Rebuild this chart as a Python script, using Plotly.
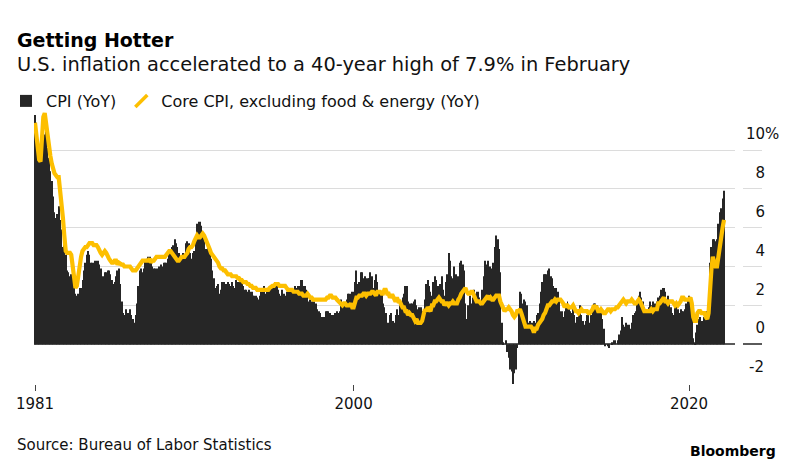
import pandas as pd
import plotly.graph_objects as go

# ---------------- data (monthly, Jan 1981 - Feb 2022) ----------------
start_month = "1981-01-01"

cpi_yoy = [
    11.8, 11.4, 10.5, 10.0, 9.8, 9.6, 10.8, 10.8, 11.0, 10.1, 9.6, 8.9,   # 1981
    8.4, 7.6, 6.8, 6.5, 6.7, 7.1, 6.4, 5.9, 5.0, 5.1, 4.6, 3.8,           # 1982
    3.7, 3.5, 3.6, 3.9, 3.5, 2.6, 2.5, 2.6, 2.9, 2.9, 3.3, 3.8,           # 1983
    4.2, 4.6, 4.8, 4.6, 4.2, 4.2, 4.2, 4.3, 4.3, 4.3, 4.1, 3.9,           # 1984
    3.5, 3.5, 3.7, 3.7, 3.8, 3.8, 3.6, 3.3, 3.1, 3.2, 3.5, 3.8,           # 1985
    3.9, 3.1, 2.2, 1.6, 1.5, 1.8, 1.6, 1.6, 1.8, 1.5, 1.3, 1.1,           # 1986
    1.5, 2.1, 3.0, 3.8, 3.9, 3.7, 3.9, 4.3, 4.4, 4.5, 4.5, 4.4,           # 1987
    4.0, 3.9, 3.9, 3.9, 3.9, 4.0, 4.1, 4.0, 4.2, 4.2, 4.2, 4.4,           # 1988
    4.7, 4.8, 5.0, 5.1, 5.4, 5.2, 5.0, 4.7, 4.3, 4.5, 4.7, 4.6,           # 1989
    5.2, 5.3, 5.2, 4.7, 4.4, 4.7, 4.8, 5.6, 6.2, 6.3, 6.3, 6.1,           # 1990
    5.7, 5.3, 4.9, 4.9, 5.0, 4.7, 4.4, 3.8, 3.4, 2.9, 3.0, 3.1,           # 1991
    2.6, 2.8, 3.2, 3.2, 3.0, 3.1, 3.2, 3.1, 3.0, 3.2, 3.0, 2.9,           # 1992
    3.3, 3.2, 3.1, 3.2, 3.2, 3.0, 2.8, 2.8, 2.7, 2.8, 2.7, 2.7,           # 1993
    2.5, 2.5, 2.5, 2.4, 2.3, 2.5, 2.8, 2.9, 3.0, 2.6, 2.7, 2.7,           # 1994
    2.8, 2.9, 2.9, 3.1, 3.2, 3.0, 2.8, 2.6, 2.5, 2.8, 2.6, 2.5,           # 1995
    2.7, 2.7, 2.8, 2.9, 2.9, 2.8, 3.0, 2.9, 3.0, 3.0, 3.3, 3.3,           # 1996
    3.0, 3.0, 2.8, 2.5, 2.2, 2.3, 2.2, 2.2, 2.2, 2.1, 1.8, 1.7,           # 1997
    1.6, 1.4, 1.4, 1.4, 1.7, 1.7, 1.7, 1.6, 1.5, 1.5, 1.5, 1.6,           # 1998
    1.7, 1.6, 1.7, 2.3, 2.1, 2.0, 2.1, 2.3, 2.6, 2.6, 2.6, 2.7,           # 1999
    2.7, 3.2, 3.8, 3.1, 3.2, 3.7, 3.7, 3.4, 3.5, 3.4, 3.4, 3.4,           # 2000
    3.7, 3.5, 2.9, 3.3, 3.6, 3.2, 2.7, 2.7, 2.6, 2.1, 1.9, 1.6,           # 2001
    1.1, 1.1, 1.5, 1.6, 1.2, 1.1, 1.5, 1.8, 1.5, 2.0, 2.2, 2.4,           # 2002
    2.6, 3.0, 3.0, 2.2, 2.1, 2.1, 2.1, 2.2, 2.3, 2.0, 1.8, 1.9,           # 2003
    1.9, 1.7, 1.7, 2.3, 3.1, 3.3, 3.0, 2.7, 2.5, 3.2, 3.5, 3.3,           # 2004
    3.0, 3.0, 3.1, 3.5, 2.8, 2.5, 3.2, 3.6, 4.7, 4.3, 3.5, 3.4,           # 2005
    4.0, 3.6, 3.4, 3.5, 4.2, 4.3, 4.1, 3.8, 2.1, 1.3, 2.0, 2.5,           # 2006
    2.1, 2.4, 2.8, 2.6, 2.7, 2.7, 2.4, 2.0, 2.8, 3.5, 4.3, 4.1,           # 2007
    4.3, 4.0, 4.0, 3.9, 4.2, 5.0, 5.6, 5.4, 4.9, 3.7, 1.1, 0.1,           # 2008
    0.0, 0.2, -0.4, -0.7, -1.3, -1.4, -2.1, -1.5, -1.3, -0.2, 1.8, 2.7,   # 2009
    2.6, 2.1, 2.3, 2.2, 2.0, 1.1, 1.2, 1.1, 1.1, 1.2, 1.1, 1.5,           # 2010
    1.6, 2.1, 2.7, 3.2, 3.6, 3.6, 3.6, 3.8, 3.9, 3.5, 3.4, 3.0,           # 2011
    2.9, 2.9, 2.7, 2.3, 1.7, 1.7, 1.4, 1.7, 2.0, 2.2, 1.8, 1.7,           # 2012
    1.6, 2.0, 1.5, 1.1, 1.4, 1.8, 2.0, 1.5, 1.2, 1.0, 1.2, 1.5,           # 2013
    1.6, 1.1, 1.5, 2.0, 2.1, 2.1, 2.0, 1.7, 1.7, 1.7, 1.3, 0.8,           # 2014
    -0.1, 0.0, -0.1, -0.2, 0.0, 0.1, 0.2, 0.2, 0.0, 0.2, 0.5, 0.7,        # 2015
    1.4, 1.0, 0.9, 1.1, 1.0, 1.0, 0.8, 1.1, 1.5, 1.6, 1.7, 2.1,           # 2016
    2.5, 2.7, 2.4, 2.2, 1.9, 1.6, 1.7, 1.9, 2.2, 2.0, 2.2, 2.1,           # 2017
    2.1, 2.2, 2.4, 2.5, 2.8, 2.9, 2.9, 2.7, 2.3, 2.5, 2.2, 1.9,           # 2018
    1.6, 1.5, 1.9, 2.0, 1.8, 1.6, 1.8, 1.7, 1.7, 1.8, 2.1, 2.3,           # 2019
    2.5, 2.3, 1.5, 0.3, 0.1, 0.6, 1.0, 1.3, 1.4, 1.2, 1.2, 1.4,           # 2020
    1.4, 1.7, 2.6, 4.2, 5.0, 5.4, 5.4, 5.3, 5.4, 6.2, 6.8, 7.0,           # 2021
    7.5, 7.9,                                                             # 2022
]

core_yoy = [
    11.4, 10.6, 9.9, 9.5, 9.4, 10.5, 11.7, 11.9, 11.3, 10.5, 10.0, 9.7,   # 1981
    9.3, 9.0, 8.8, 8.7, 8.6, 8.6, 8.0, 7.3, 6.5, 5.6, 4.8, 4.7,           # 1982
    4.7, 4.7, 4.6, 4.0, 3.3, 2.9, 3.0, 3.6, 4.0, 4.5, 4.8, 4.9,           # 1983
    5.0, 5.0, 5.1, 5.2, 5.2, 5.2, 5.1, 5.1, 5.1, 5.0, 4.8, 4.7,           # 1984
    4.6, 4.7, 4.8, 4.7, 4.5, 4.4, 4.3, 4.2, 4.2, 4.3, 4.3, 4.1,           # 1985
    4.2, 4.1, 4.1, 4.1, 4.0, 4.0, 4.0, 4.0, 4.0, 3.9, 3.8, 3.8,           # 1986
    3.8, 3.9, 4.0, 4.1, 4.2, 4.3, 4.3, 4.3, 4.3, 4.3, 4.4, 4.2,           # 1987
    4.3, 4.3, 4.4, 4.5, 4.5, 4.5, 4.5, 4.5, 4.5, 4.5, 4.6, 4.7,           # 1988
    4.8, 4.8, 4.7, 4.6, 4.5, 4.4, 4.3, 4.3, 4.4, 4.5, 4.5, 4.5,           # 1989
    4.6, 4.7, 4.9, 5.0, 5.0, 5.1, 5.3, 5.5, 5.6, 5.5, 5.5, 5.6,           # 1990
    5.7, 5.6, 5.4, 5.2, 5.0, 4.9, 4.7, 4.6, 4.5, 4.4, 4.3, 4.2,           # 1991
    4.0, 3.9, 3.9, 3.8, 3.8, 3.7, 3.6, 3.6, 3.6, 3.5, 3.5, 3.5,           # 1992
    3.5, 3.4, 3.4, 3.3, 3.3, 3.2, 3.2, 3.2, 3.1, 3.1, 3.0, 3.0,           # 1993
    2.9, 2.9, 2.9, 2.8, 2.8, 2.8, 2.8, 2.8, 2.8, 2.8, 2.8, 2.8,           # 1994
    2.9, 3.0, 3.0, 3.0, 3.1, 3.1, 3.1, 3.0, 3.0, 3.0, 3.0, 3.0,           # 1995
    2.9, 2.8, 2.8, 2.8, 2.8, 2.7, 2.7, 2.7, 2.7, 2.6, 2.6, 2.6,           # 1996
    2.5, 2.5, 2.5, 2.6, 2.5, 2.4, 2.4, 2.3, 2.3, 2.3, 2.3, 2.3,           # 1997
    2.3, 2.3, 2.3, 2.3, 2.3, 2.4, 2.4, 2.5, 2.5, 2.4, 2.4, 2.4,           # 1998
    2.3, 2.2, 2.2, 2.1, 2.0, 2.1, 2.1, 2.0, 2.0, 2.0, 2.1, 1.9,           # 1999
    1.9, 2.2, 2.4, 2.4, 2.5, 2.5, 2.5, 2.6, 2.6, 2.5, 2.6, 2.6,           # 2000
    2.6, 2.7, 2.7, 2.6, 2.5, 2.7, 2.7, 2.7, 2.6, 2.6, 2.8, 2.8,           # 2001
    2.6, 2.6, 2.4, 2.5, 2.5, 2.3, 2.2, 2.4, 2.2, 2.2, 2.0, 1.9,           # 2002
    1.9, 1.7, 1.7, 1.5, 1.6, 1.5, 1.5, 1.3, 1.2, 1.3, 1.1, 1.1,           # 2003
    1.1, 1.2, 1.6, 1.8, 1.7, 1.9, 1.8, 1.7, 2.0, 2.0, 2.2, 2.2,           # 2004
    2.3, 2.4, 2.3, 2.2, 2.2, 2.0, 2.1, 2.1, 2.0, 2.1, 2.1, 2.2,           # 2005
    2.1, 2.1, 2.1, 2.3, 2.4, 2.6, 2.7, 2.8, 2.9, 2.7, 2.6, 2.6,           # 2006
    2.7, 2.7, 2.5, 2.3, 2.2, 2.2, 2.2, 2.1, 2.1, 2.2, 2.3, 2.4,           # 2007
    2.5, 2.3, 2.4, 2.3, 2.3, 2.4, 2.5, 2.5, 2.5, 2.2, 2.0, 1.8,           # 2008
    1.7, 1.8, 1.8, 1.9, 1.8, 1.7, 1.5, 1.4, 1.5, 1.7, 1.7, 1.8,           # 2009
    1.6, 1.3, 1.1, 0.9, 0.9, 0.9, 0.9, 0.9, 0.8, 0.6, 0.8, 0.8,           # 2010
    1.0, 1.1, 1.2, 1.3, 1.5, 1.6, 1.8, 2.0, 2.0, 2.1, 2.2, 2.2,           # 2011
    2.3, 2.2, 2.3, 2.3, 2.3, 2.2, 2.1, 1.9, 2.0, 2.0, 1.9, 1.9,           # 2012
    1.9, 2.0, 1.9, 1.7, 1.7, 1.6, 1.7, 1.8, 1.7, 1.7, 1.7, 1.7,           # 2013
    1.6, 1.6, 1.7, 1.8, 2.0, 1.9, 1.9, 1.7, 1.7, 1.8, 1.7, 1.6,           # 2014
    1.6, 1.7, 1.8, 1.8, 1.7, 1.8, 1.8, 1.8, 1.9, 1.9, 2.0, 2.1,           # 2015
    2.2, 2.3, 2.2, 2.1, 2.2, 2.2, 2.2, 2.3, 2.2, 2.1, 2.1, 2.2,           # 2016
    2.3, 2.2, 2.0, 1.9, 1.7, 1.7, 1.7, 1.7, 1.7, 1.8, 1.7, 1.8,           # 2017
    1.8, 1.8, 2.1, 2.1, 2.2, 2.3, 2.4, 2.2, 2.2, 2.1, 2.2, 2.2,           # 2018
    2.2, 2.1, 2.0, 2.1, 2.0, 2.1, 2.2, 2.4, 2.4, 2.3, 2.3, 2.3,           # 2019
    2.3, 2.4, 2.1, 1.4, 1.2, 1.2, 1.6, 1.7, 1.7, 1.6, 1.6, 1.6,           # 2020
    1.4, 1.3, 1.6, 3.0, 3.8, 4.5, 4.3, 4.0, 4.0, 4.6, 4.9, 5.5,           # 2021
    6.0, 6.4,                                                             # 2022
]

year_ticks = ["1981-01-01", "2000-01-01", "2020-01-01"]
year_labels = ["1981", "2000", "2020"]
grid_vals = [2, 4, 6, 8, 10]
grid_labels = ["\u20072", "\u20074", "\u20076", "\u20078", "10%"]
low_vals = [-2, 0]
low_labels = ["\u2009-2", "\u20070"]

months = pd.date_range(start_month, periods=len(cpi_yoy), freq="MS")

# ---------------- styling ----------------
# the page body adds an 8px offset, so the figure is 8px smaller and all
# screen targets are shifted by OFF
OFF = 8
W, H = 795 - OFF, 467 - OFF
FONT = "DejaVu Sans"
BAR = "#262626"
GOLD = "#FDBF00"
GRID = "#dcdcdc"
ZERO = "#5a5a5a"
TXT = "#111111"

# screen-pixel targets
plot_left, plot_right = 34, 735
plot_top, plot_bottom = 110, 383.8
yr = [-2.05, 12.06]

def px_x(s):
    return (s - OFF) / W

def px_y(s):
    return (plot_bottom - s) / (plot_bottom - plot_top)

fig = go.Figure()
fig.add_trace(go.Bar(
    x=months, y=cpi_yoy, name="CPI (YoY)",
    marker=dict(color=BAR, line=dict(width=0)),
    showlegend=True,
))
fig.add_trace(go.Scatter(
    x=months, y=core_yoy, mode="lines", name="Core CPI, excluding food & energy (YoY)",
    line=dict(color=GOLD, width=4.2), showlegend=False,
))
# legend-only entry with a slash marker
fig.add_trace(go.Scatter(
    x=[None], y=[None], mode="markers", name="Core CPI, excluding food & energy (YoY)",
    marker=dict(symbol="line-ne", size=12, line=dict(color=GOLD, width=3.5)),
    showlegend=True,
))
# empty traces for the label column axes
fig.add_trace(go.Scatter(x=[None], y=[None], xaxis="x2", yaxis="y2", showlegend=False, hoverinfo="skip"))
fig.add_trace(go.Scatter(x=[None], y=[None], xaxis="x2", yaxis="y3", showlegend=False, hoverinfo="skip"))

fig.update_layout(
    width=W, height=H,
    margin=dict(l=0, r=0, t=plot_top - OFF, b=H - (plot_bottom - OFF), pad=0, autoexpand=False),
    paper_bgcolor="white", plot_bgcolor="white",
    font=dict(family=FONT, color=TXT, size=15),
    bargap=0.3,
    showlegend=True,
    legend=dict(
        orientation="h", x=px_x(6), xanchor="left", y=px_y(101), yanchor="middle",
        font=dict(size=16, color=TXT), bgcolor="rgba(0,0,0,0)",
        itemwidth=30, tracegroupgap=0, traceorder="normal",
    ),
    xaxis=dict(
        domain=[px_x(plot_left), px_x(plot_right)], automargin=False,
        type="date", range=["1980-12-10", "2022-09-28"],
        tickvals=year_ticks, ticktext=year_labels,
        ticks="outside", ticklen=6, tickwidth=1, tickcolor="#444",
        showgrid=False, zeroline=False, showline=False,
        tickfont=dict(size=15, color=TXT),
    ),
    yaxis=dict(
        domain=[0, 1], range=yr, side="right", automargin=False,
        tickvals=grid_vals, showticklabels=False, ticks="",
        showgrid=True, gridcolor=GRID, gridwidth=1.3,
        zeroline=True, zerolinecolor=ZERO, zerolinewidth=1.6,
        showline=False,
    ),
    xaxis2=dict(
        domain=[px_x(743), px_x(762)], anchor="y2", range=[0, 1],
        visible=False, automargin=False,
    ),
    yaxis2=dict(
        anchor="x2", domain=[0, 1], range=yr, side="left", automargin=False,
        tickvals=grid_vals, ticktext=grid_labels,
        ticklabelposition="inside", ticklabelshift=-16, ticks="",
        showgrid=True, gridcolor=GRID, gridwidth=1.3,
        zeroline=False, showline=False,
        tickfont=dict(size=15, color=TXT),
    ),
    yaxis3=dict(
        anchor="x2", overlaying="y2", range=yr, side="left", automargin=False,
        tickvals=low_vals, ticktext=low_labels,
        ticklabelposition="inside", ticklabelshift=-16, ticks="",
        showgrid=True, gridcolor=ZERO, gridwidth=1.6,
        zeroline=False, showline=False,
        tickfont=dict(size=15, color=TXT),
    ),
)

fig.add_annotation(text="<b>Getting Hotter</b>", xref="paper", yref="paper",
                   x=px_x(15), y=px_y(40), xanchor="left", yanchor="middle",
                   showarrow=False, font=dict(size=19, color="#000"))
fig.add_annotation(text="U.S. inflation accelerated to a 40-year high of 7.9% in February",
                   xref="paper", yref="paper", x=px_x(15), y=px_y(65),
                   xanchor="left", yanchor="middle", showarrow=False,
                   font=dict(size=19.4, color=TXT))
fig.add_annotation(text="Source: Bureau of Labor Statistics", xref="paper", yref="paper",
                   x=px_x(15), y=px_y(445), xanchor="left", yanchor="middle",
                   showarrow=False, font=dict(size=15, color=TXT))
fig.add_annotation(text="<b>Bloomberg</b>", xref="paper", yref="paper",
                   x=px_x(778), y=px_y(451), xanchor="right", yanchor="middle",
                   showarrow=False, font=dict(size=14, color="#000"))

fig.write_html("out.html")
